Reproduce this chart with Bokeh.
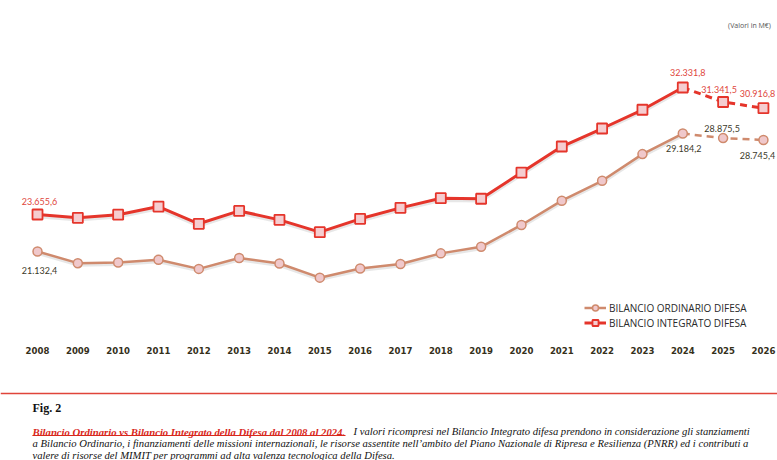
from bokeh.plotting import figure
from bokeh.models import Range1d, Label, Span, BoxAnnotation, Legend, LegendItem
from bokeh.core.properties import value
from bokeh.embed import file_html
from bokeh.resources import INLINE

# ---------------- data ----------------
years = [2008, 2009, 2010, 2011, 2012, 2013, 2014, 2015, 2016, 2017,
         2018, 2019, 2020, 2021, 2022, 2023, 2024, 2025, 2026]
year_labels = [str(y) for y in years]
bilancio_ordinario = [21132.4, 20330, 20370, 20560, 19940, 20680, 20310, 19340, 19970, 20270,
                      21000, 21450, 22940, 24600, 25960, 27780, 29184.2, 28875.5, 28745.4]
bilancio_integrato = [23655.6, 23430, 23640, 24200, 23020, 23900, 23290, 22450, 23360, 24110,
                      24770, 24730, 26520, 28300, 29530, 30810, 32331.8, 31341.5, 30916.8]
series_names = ["BILANCIO ORDINARIO DIFESA", "BILANCIO INTEGRATO DIFESA"]
last_actual_year = 2024
labelled_years_integrato = [2008, 2024, 2025, 2026]
labelled_years_ordinario = [2008, 2024, 2025, 2026]
unit_note = "(Valori in M€)"
fig_title = "Fig. 2"
caption_title = "Bilancio Ordinario vs Bilancio Integrato della Difesa dal 2008 al 2024."
caption_line1 = "I valori ricompresi nel Bilancio Integrato difesa prendono in considerazione gli stanziamenti"
caption_line2 = ("a Bilancio Ordinario, i finanziamenti delle missioni internazionali, le risorse assentite "
                 "nell\u2019ambito del Piano Nazionale di Ripresa e Resilienza (PNRR)  ed i contributi a")
caption_line3 = "valere di risorse del MIMIT per programmi ad alta valenza tecnologica della Difesa."

# ---------------- layout / scales ----------------
W, H = 777, 460
PX_PER_YEAR = 40.33
X_ORIGIN_PX = 37.0          # pixel of first year
Y_PER_PX = 68.32            # data units per pixel
Y_REF_PX = 87.0             # pixel of reference value
Y_REF_VAL = 32331.8

x0 = years[0] - X_ORIGIN_PX / PX_PER_YEAR
x1 = x0 + W / PX_PER_YEAR
y1 = Y_REF_VAL + Y_REF_PX * Y_PER_PX
y0 = y1 - H * Y_PER_PX

def X(px):
    return x0 + px / PX_PER_YEAR

def Y(py):
    return y1 - py * Y_PER_PX

def fmt_it(v):
    s = f"{v:,.1f}"
    return s.replace(",", "X").replace(".", ",").replace("X", ".")

RED = "#e5352b"
RED_FILL = "#f5cdd0"
ORANGE = "#cf8a6d"
ORANGE_FILL = "#f0c8cb"
RED_TXT = "#e0463c"
DARK_TXT = "#3c3a2a"
SHADOW = "#bbbbbb"

p = figure(width=W, height=H, x_range=Range1d(x0, x1), y_range=Range1d(y0, y1),
           output_backend="svg", toolbar_location=None, min_border=0,
           x_axis_type=None, y_axis_type=None, outline_line_color=None,
           background_fill_color="white", border_fill_color="white")
p.grid.visible = False

k = years.index(last_actual_year)
shadow_dy = 2 * Y_PER_PX
ord_shadow = [v - shadow_dy for v in bilancio_ordinario]
int_shadow = [v - shadow_dy for v in bilancio_integrato]

# soft shadows
p.line(years[:k + 1], ord_shadow[:k + 1], line_color=SHADOW, line_width=3, line_alpha=0.35)
p.line(years[:k + 1], int_shadow[:k + 1], line_color=SHADOW, line_width=3.5, line_alpha=0.35)

# Ordinario
ord_line = p.line(years[:k + 1], bilancio_ordinario[:k + 1], line_color=ORANGE, line_width=2.5)
p.line(years[k:], bilancio_ordinario[k:], line_color=ORANGE, line_width=2.5, line_dash="7 5")
ord_pts = p.scatter(years, bilancio_ordinario, marker="circle", size=9,
                    fill_color=ORANGE_FILL, line_color=ORANGE, line_width=1.5)

# Integrato
int_line = p.line(years[:k + 1], bilancio_integrato[:k + 1], line_color=RED, line_width=3)
p.line(years[k:], bilancio_integrato[k:], line_color=RED, line_width=3, line_dash="7 5")
int_pts = p.scatter(years, bilancio_integrato, marker="square", size=10,
                    fill_color=RED_FILL, line_color=RED, line_width=1.8)

# Value labels (offsets in screen pixels, positive = up)
int_offsets = {2008: (2, 13), 2024: (5, 15), 2025: (-4, 12), 2026: (-6, 15)}
ord_offsets = {2008: (2, -19), 2024: (1, -15), 2025: (-1, 10), 2026: (-6, -16)}
for yr in labelled_years_integrato:
    v = bilancio_integrato[years.index(yr)]
    dx, dy = int_offsets[yr]
    p.add_layout(Label(x=yr, y=v, x_offset=dx, y_offset=dy, text=fmt_it(v),
                       text_align="center", text_baseline="middle",
                       text_font="Lato", text_font_size="9px", text_color=RED_TXT))
for yr in labelled_years_ordinario:
    v = bilancio_ordinario[years.index(yr)]
    dx, dy = ord_offsets[yr]
    p.add_layout(Label(x=yr, y=v, x_offset=dx, y_offset=dy, text=fmt_it(v),
                       text_align="center", text_baseline="middle",
                       text_font="Lato", text_font_size="9px", text_color=DARK_TXT))

# Year labels
p.text(x=years, y=Y(350), text=year_labels, text_align="center", text_baseline="middle",
       text_font=value("'DejaVu Sans Condensed', sans-serif"),
       text_font_style="bold", text_font_size="9.5px", text_color="#35301a")

# Unit note
p.add_layout(Label(x=X(749), y=Y(24.5), text=unit_note, text_align="center", text_baseline="middle",
                   text_font="Open Sans", text_font_size="7px", text_color="#555555"))

# Legend
legend = Legend(items=[LegendItem(label=series_names[0], renderers=[ord_line, ord_pts]),
                       LegendItem(label=series_names[1], renderers=[int_line, int_pts])],
                location=(584, H - 330), orientation="vertical",
                glyph_width=22, glyph_height=15, label_height=15, label_standoff=3,
                spacing=0, padding=0, margin=0, border_line_color=None,
                background_fill_alpha=0, label_text_font="Open Sans",
                label_text_font_size="10px", label_text_color="#2a2a2a")
p.add_layout(legend)

# Caption separator
p.add_layout(Span(location=Y(393), dimension="width", line_color="#e0443a", line_width=1.5))

SERIF = "'Liberation Serif', 'Times New Roman', serif"
p.add_layout(Label(x=X(32), y=Y(407), text=fig_title, text_baseline="middle",
                   text_font=SERIF, text_font_style="bold", text_font_size="12px", text_color="#111111"))
p.add_layout(Label(x=X(32), y=Y(431), text=caption_title, text_baseline="middle",
                   text_font=SERIF, text_font_style="bold italic", text_font_size="10.7px",
                   text_color="#d8281c"))
p.add_layout(BoxAnnotation(left=X(32), right=X(345), bottom=Y(435.6), top=Y(434.4),
                           fill_color="#d8281c", fill_alpha=1, line_alpha=0))
p.add_layout(Label(x=X(353), y=Y(431), text=caption_line1, text_baseline="middle",
                   text_font=SERIF, text_font_style="italic", text_font_size="10.65px", text_color="#111111"))
p.add_layout(Label(x=X(32), y=Y(443), text=caption_line2, text_baseline="middle",
                   text_font=SERIF, text_font_style="italic", text_font_size="10.65px", text_color="#111111"))
p.add_layout(Label(x=X(32), y=Y(455), text=caption_line3, text_baseline="middle",
                   text_font=SERIF, text_font_style="italic", text_font_size="10.65px", text_color="#111111"))

open("out.html", "w").write(file_html(p, INLINE))
